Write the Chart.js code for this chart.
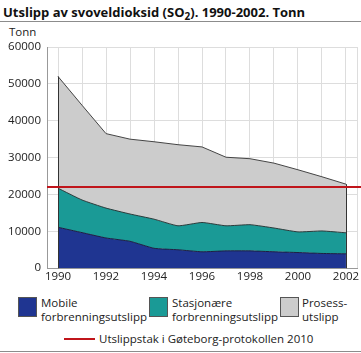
<!DOCTYPE html>
<html>
<head>
<meta charset="utf-8">
<script src="https://cdn.jsdelivr.net/npm/chart.js@4/dist/chart.umd.min.js"></script>
<style>
  html, body { margin: 0; padding: 0; background: #fff; }
  body { width: 361px; height: 353px; position: relative; overflow: hidden; font-family: "Open Sans", sans-serif; color: #222; }
  #title { position: absolute; left: 3px; top: 3px; font-size: 13px; font-weight: bold; white-space: nowrap; color: #111; }
  #title sub { font-size: 10px; vertical-align: -3px; line-height: 0; }
  .rule { position: absolute; left: 0; width: 361px; height: 1px; background: #8c8c8c; }
  #wrap { position: absolute; left: 0; top: 22px; width: 361px; height: 264px; }
  .sw { position: absolute; width: 19px; height: 20px; box-sizing: border-box; border: 1px solid #555; top: 297px; }
  .lt { position: absolute; top: 296px; font-size: 11.5px; line-height: 14px; color: #222; white-space: nowrap; }
  #unit { position: absolute; left: 9px; top: 25px; font-size: 11.5px; line-height: 14px; color: #222; }
</style>
</head>
<body>
<div id="title">Utslipp av svoveldioksid (SO<sub>2</sub>). 1990-2002. Tonn</div>
<div class="rule" style="top:21px"></div>
<div id="unit">Tonn</div>
<div id="wrap"><canvas id="c"></canvas></div>

<div class="sw" style="left:18px;background:#1f3591"></div>
<div class="lt" style="left:41px">Mobile<br>forbrenningsutslipp</div>
<div class="sw" style="left:149px;background:#1a9a96"></div>
<div class="lt" style="left:172px">Stasjonære<br>forbrenningsutslipp</div>
<div class="sw" style="left:280px;background:#cccccc"></div>
<div class="lt" style="left:302px">Prosess-<br>utslipp</div>
<div style="position:absolute;left:64px;top:338px;width:31px;height:2px;background:#c0151b"></div>
<div class="lt" style="left:99px;top:332px">Utslippstak i Gøteborg-protokollen 2010</div>
<div class="rule" style="top:351px"></div>

<script>
const years = [1990, 1991, 1992, 1993, 1994, 1995, 1996, 1997, 1998, 1999, 2000, 2001, 2002];
const mobile = [11100, 9650, 8200, 7300, 5400, 5000, 4450, 4700, 4700, 4450, 4250, 4000, 3900];
const stationary = [10600, 8850, 8100, 7400, 7900, 6500, 7950, 6800, 7100, 6450, 5600, 6100, 5700];
const process = [30300, 25700, 20200, 20300, 21000, 22000, 20500, 18600, 17900, 17600, 16850, 14700, 13200];
const limit2010 = 22000;
const yTicks = [0, 10000, 20000, 30000, 40000, 50000, 60000];
const xMin = 1989.54, xMax = 2002.46;

const pts = arr => years.map((y, i) => ({ x: y, y: arr[i] }));

const edgePlugin = {
  id: 'edges',
  afterDatasetsDraw(chart) {
    const { ctx, scales: { x, y } } = chart;
    ctx.save();
    ctx.strokeStyle = '#333';
    ctx.lineWidth = 1;
    [0, years.length - 1].forEach(i => {
      const total = mobile[i] + stationary[i] + process[i];
      const px = Math.round(x.getPixelForValue(years[i])) + 0.5;
      ctx.beginPath();
      ctx.moveTo(px, y.getPixelForValue(0));
      ctx.lineTo(px, y.getPixelForValue(total));
      ctx.stroke();
    });
    const py = y.getPixelForValue(limit2010);
    ctx.strokeStyle = '#c0151b';
    ctx.lineWidth = 2;
    ctx.beginPath();
    ctx.moveTo(x.getPixelForValue(xMin), py);
    ctx.lineTo(chart.width, py);
    ctx.stroke();
    ctx.restore();
  }
};

const tickFont = { family: 'Open Sans', size: 11.5 };

new Chart(document.getElementById('c'), {
  type: 'line',
  data: {
    datasets: [
      { label: 'Mobile forbrenningsutslipp', data: pts(mobile), backgroundColor: '#1f3591', borderColor: '#1a1f40', borderWidth: 1, fill: 'origin', pointRadius: 0, tension: 0.15, stack: 's' },
      { label: 'Stasjonære forbrenningsutslipp', data: pts(stationary), backgroundColor: '#1a9a96', borderColor: '#2a3a3a', borderWidth: 1, fill: '-1', pointRadius: 0, tension: 0.15, stack: 's' },
      { label: 'Prosessutslipp', data: pts(process), backgroundColor: '#cccccc', borderColor: '#444', borderWidth: 1, fill: '-1', pointRadius: 0, tension: 0, stack: 's' }
    ]
  },
  options: {
    responsive: true,
    maintainAspectRatio: false,
    animation: false,
    layout: { padding: { left: 0, right: 4, top: 25, bottom: 0 } },
    plugins: {
      legend: { display: false },
      tooltip: { enabled: false }
    },
    scales: {
      x: {
        type: 'linear', min: xMin, max: xMax,
        afterBuildTicks: s => { s.ticks = [xMin].concat(years, [xMax]).map(v => ({ value: v })); },
        ticks: {
          autoSkip: false, maxRotation: 0, padding: 2, color: '#222', font: tickFont,
          callback: v => (Number.isInteger(v) && v % 2 === 0) ? String(v) : ''
        },
        grid: { color: '#dddddd', lineWidth: 1, drawTicks: false },
        border: { display: true, color: '#999' }
      },
      y: {
        stacked: true, min: 0, max: 60000,
        afterBuildTicks: s => { s.ticks = yTicks.map(v => ({ value: v })); },
        afterFit: s => { s.width = 47; },
        ticks: { padding: 6, color: '#222', font: tickFont, callback: v => String(v) },
        grid: { color: '#dddddd', lineWidth: 1, drawTicks: false },
        border: { display: true, color: '#999' }
      }
    }
  },
  plugins: [edgePlugin]
});
</script>
</body>
</html>
